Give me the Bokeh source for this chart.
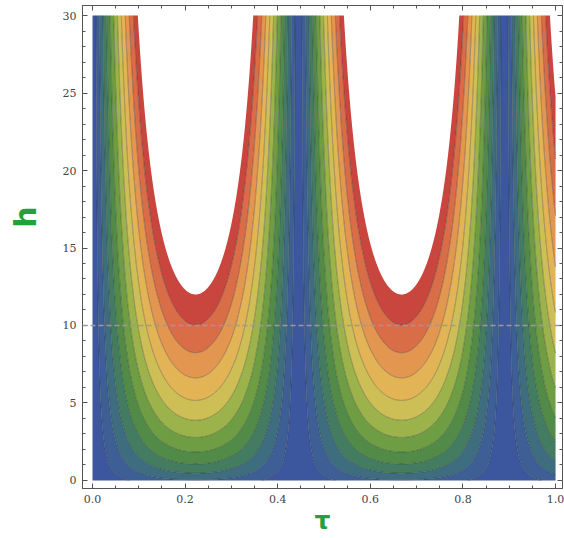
import numpy as np
from bokeh.plotting import figure
from bokeh.models import FixedTicker, PrintfTickFormatter, LinearAxis, Span, Range1d
from bokeh.embed import file_html
from bokeh.resources import INLINE

# --- chart values ---
tau_min, tau_max = 0.0, 1.0
h_min, h_max = 0.0, 30.0
period = 0.445          # spacing of the blue (zero) bands in tau
h_offset = 0.3
n_bands = 12
f_top = np.sqrt(12.0 + h_offset)   # top contour value (white above)
h_dash = 10.0
x_ticks = [0.0, 0.2, 0.4, 0.6, 0.8, 1.0]
x_minor = [0.05, 0.1, 0.15, 0.25, 0.3, 0.35, 0.45, 0.5, 0.55, 0.65, 0.7, 0.75, 0.85, 0.9, 0.95]
y_ticks = [0, 5, 10, 15, 20, 25, 30]
y_minor = [v for v in range(0, 31) if v % 5 != 0]
band_colors = ["#3c579e", "#3d5f96", "#3e6d80", "#437c60", "#528b48", "#6f9d44",
               "#9cb24b", "#cdbf55", "#e2b455", "#e39650", "#d86d47", "#c8463e"]

# --- grid ---
tau = np.linspace(tau_min, tau_max, 700)
h = np.linspace(h_min, h_max, 500)
T, H = np.meshgrid(tau, h)
Z = np.sqrt(H + h_offset) * np.abs(np.sin(np.pi * T / period))

levels = list(np.linspace(0, f_top, n_bands + 1))
levels[0] = -1e-6

p = figure(width=564, height=538, output_backend="svg", toolbar_location=None,
           x_range=Range1d(-0.0216, 1.015), y_range=Range1d(-0.52, 30.65),
           min_border_left=82, min_border_right=2, min_border_top=5, min_border_bottom=50)
p.grid.visible = False
p.outline_line_color = "#555555"

p.contour(tau, h, Z, levels, fill_color=band_colors, line_color=None)
p.contour(tau, h, Z, levels[1:-1], line_color="#2a2a2a", line_alpha=0.45, line_width=0.8)

p.add_layout(Span(location=h_dash, dimension="width", line_color="#9a9a9a",
                  line_dash="5 3", line_width=1.5))

def style(ax):
    ax.major_tick_in = 5
    ax.major_tick_out = 0
    ax.minor_tick_in = 3
    ax.minor_tick_out = 0
    ax.axis_line_color = "#555555"
    ax.major_tick_line_color = "#555555"
    ax.minor_tick_line_color = "#555555"
    ax.major_label_text_font = "DejaVu Serif"
    ax.major_label_text_font_size = "11px"
    ax.major_label_text_color = "#444444"

bottom_ax = p.below[0]
left_ax = p.left[0]
bottom_ax.ticker = FixedTicker(ticks=x_ticks, minor_ticks=x_minor)
bottom_ax.formatter = PrintfTickFormatter(format="%.1f")
left_ax.ticker = FixedTicker(ticks=y_ticks, minor_ticks=y_minor)
style(bottom_ax); style(left_ax)
bottom_ax.major_label_standoff = 6
left_ax.major_label_standoff = 6

top = LinearAxis(ticker=FixedTicker(ticks=x_ticks, minor_ticks=x_minor),
                 major_label_overrides={t: "" for t in x_ticks})
style(top)
top.major_label_standoff = 0
p.add_layout(top, "above")
right = LinearAxis(ticker=FixedTicker(ticks=y_ticks, minor_ticks=y_minor),
                   major_label_overrides={t: "" for t in y_ticks})
style(right)
right.major_label_standoff = 0
p.add_layout(right, "right")

left_ax.axis_label = "\u2003\u2003h"
bottom_ax.axis_label = "τ"
for ax in (bottom_ax, left_ax):
    ax.axis_label_text_color = "#22a23a"
    ax.axis_label_text_font = "DejaVu Sans"
    ax.axis_label_text_font_style = "bold"
left_ax.axis_label_text_font_size = "30px"
bottom_ax.axis_label_text_font_size = "25px"
left_ax.axis_label_standoff = 17
bottom_ax.axis_label_standoff = 0

open("out.html", "w").write(file_html(p, INLINE))
